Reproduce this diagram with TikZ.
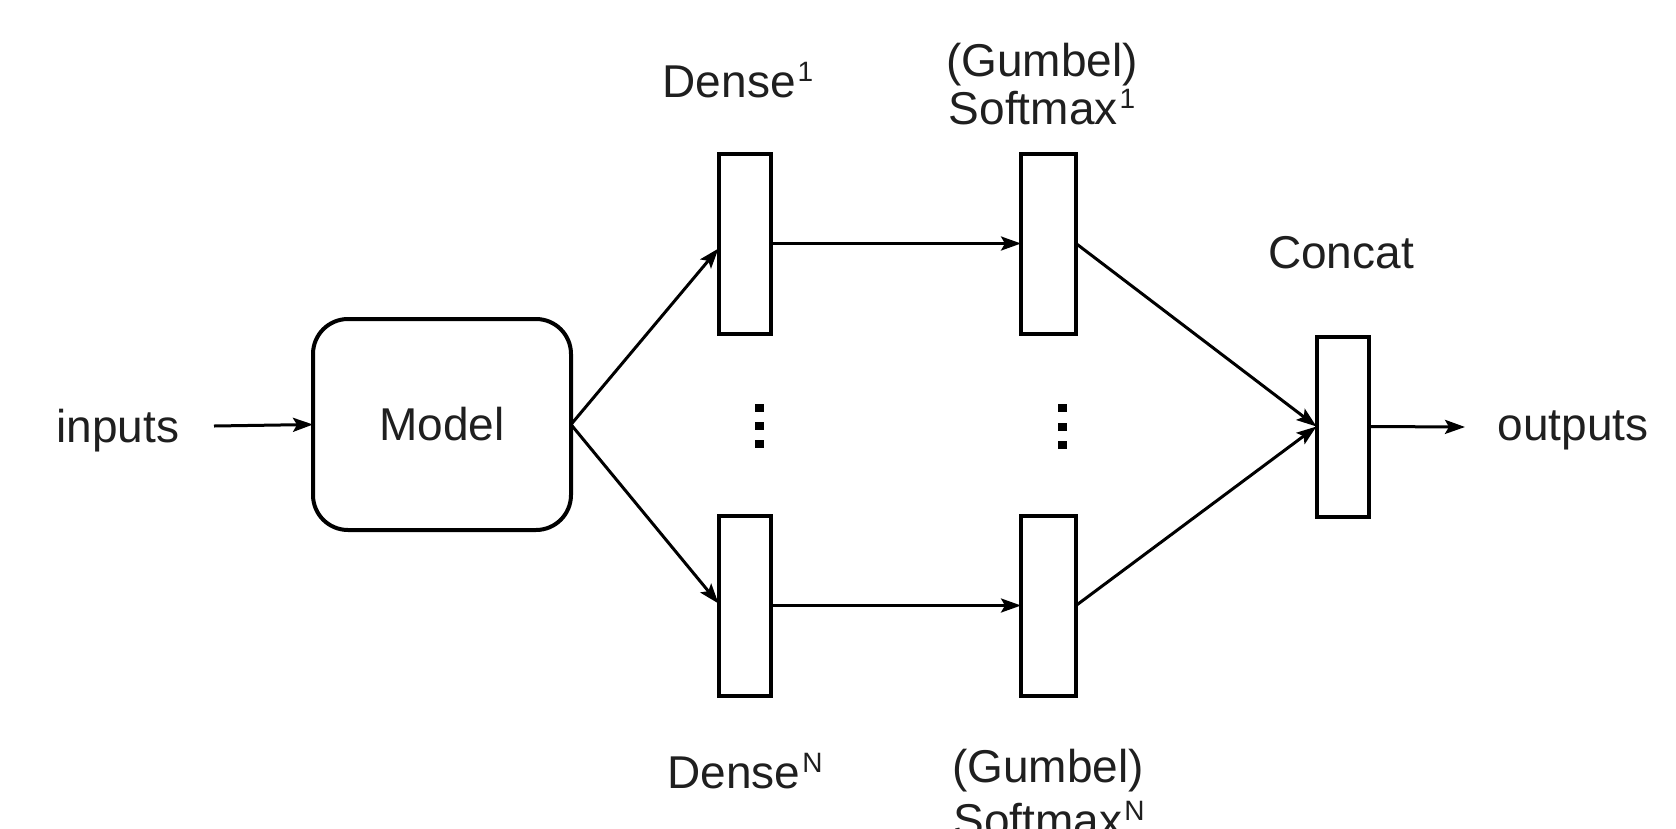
\documentclass[tikz,border=0pt]{standalone}
\usepackage{fontspec}
\setmainfont{Liberation Sans}
\usetikzlibrary{arrows.meta,calc}
\newcommand\supx[1]{\hspace{2pt}\raisebox{16pt}{\fontsize{28}{28}\selectfont #1}}
\begin{document}
\begin{tikzpicture}[x=1pt,y=-1pt,
  lbl/.style={font=\fontsize{46}{52}\selectfont, text=black!88, inner sep=0pt, anchor=base},
  bar/.style={draw, line width=4pt, minimum width=52pt, minimum height=180pt, inner sep=0pt, outer sep=0pt},
  modelbox/.style={draw, line width=4pt, rounded corners=35pt, minimum width=258pt, minimum height=211pt, inner sep=0pt, outer sep=0pt, font=\fontsize{46}{52}\selectfont, text=black!88},
  conn/.style={line width=3pt, -{Stealth[length=20pt,width=14pt,inset=4pt]}},
  dotbox/.style={fill=black, minimum width=9pt, minimum height=8pt, inner sep=0pt}]
\useasboundingbox (0,0) rectangle (1676,828);
\fill[white] (0,0) rectangle (1676,828);

\node[modelbox] (model) at (442,424.5) {Model};
\node[bar] (d1) at (744.5,243.5) {};
\node[bar] (dN) at (744.5,605.5) {};
\node[bar, minimum width=55pt] (s1) at (1048.5,243.5) {};
\node[bar, minimum width=55pt] (sN) at (1048.5,605.5) {};
\node[bar] (cc) at (1342.5,426.5) {};

\node[lbl] (tin) at (118,442) {inputs};
\node[lbl] (tout) at (1573,440) {outputs};
\node[lbl] (td1) at (738,97) {Dense\supx{1}};
\node[lbl] (tg1) at (1042,76) {(Gumbel)};
\node[lbl] (ts1) at (1042,124) {Softmax\supx{1}};
\node[lbl] (tcc) at (1341,268) {Concat};
\node[lbl] (tdN) at (745,788) {Dense\supx{N}};
\node[lbl] (tgN) at (1048,782) {(Gumbel)};
\node[lbl] (tsN) at (1049,836) {Softmax\supx{N}};

\coordinate (inS) at (214,426);
\coordinate (outE) at (1465,427);
\draw[conn] (inS) -- (model.west);
\draw[conn] (model.east) -- ([yshift=-5pt]d1.west);
\draw[conn] (model.east) -- ([yshift=2pt]dN.west);
\draw[conn] (d1.east) -- (s1.west);
\draw[conn] (dN.east) -- (sN.west);
\draw[conn] (s1.east) -- (cc.west);
\draw[conn] (sN.east) -- (cc.west);
\draw[conn] (cc.east) -- (outE);

\node[dotbox] (da1) at (759,408) {};
\node[dotbox] (da2) at (759,426) {};
\node[dotbox] (da3) at (759,444) {};
\node[dotbox] (db1) at (1062,408) {};
\node[dotbox] (db2) at (1062,427) {};
\node[dotbox] (db3) at (1062,445) {};
\end{tikzpicture}
\end{document}
